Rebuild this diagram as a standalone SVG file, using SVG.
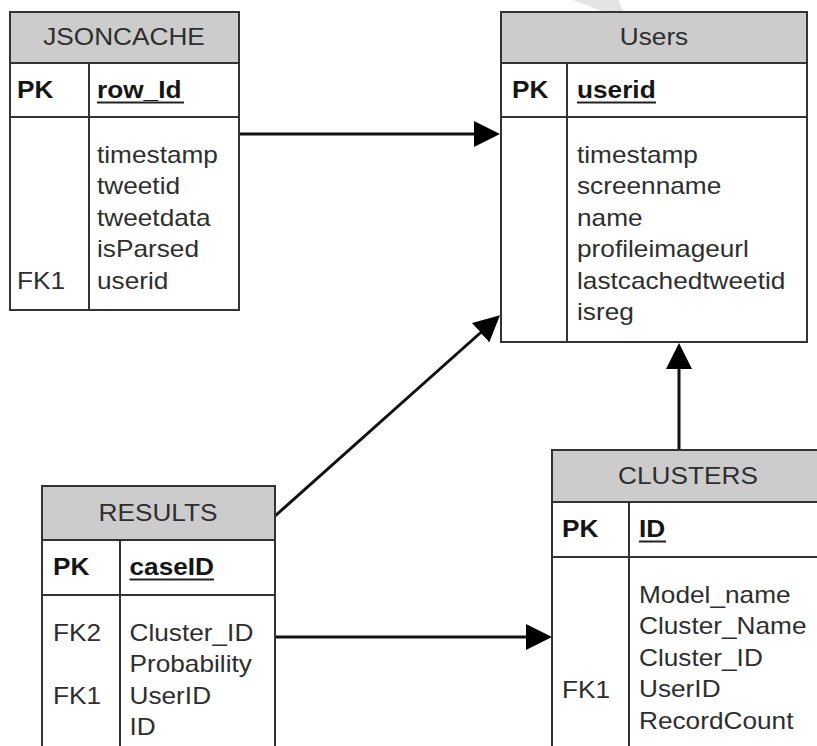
<svg xmlns="http://www.w3.org/2000/svg" width="817" height="746" viewBox="0 0 817 746">
  <style>
    .box { fill: #ffffff; stroke: #333333; stroke-width: 2; }
    .hdr { fill: #cccccc; stroke: #333333; stroke-width: 2; }
    .rule { stroke: #333333; stroke-width: 2; fill: none; }
    .t { font-family: "Liberation Sans", Arial, Helvetica, sans-serif; font-size: 23px; fill: #2e2e2e; }
    .b { font-weight: bold; fill: #151515; }
    .c { text-anchor: middle; }
    .ul { stroke: #222222; stroke-width: 2; }
    .edge { stroke: #111111; stroke-width: 3; fill: none; marker-end: url(#arrow); }
  </style>
  <defs>
    <marker id="arrow" markerUnits="userSpaceOnUse" markerWidth="26" markerHeight="26" viewBox="0 0 26 26" refX="22" refY="13" orient="auto">
      <path d="M0,0 L26,13 L0,26 Z" fill="#000000"/>
    </marker>
  </defs>

  <rect width="817" height="746" fill="#ffffff"/>

  <!-- faint mark along the top edge -->
  <polygon points="573,0 618,0 624,12 604,12" fill="#e4e4e4"/>

  <!-- connectors -->
  <g id="connectors">
    <line class="edge" x1="239" y1="134" x2="496" y2="134"/>
    <line class="edge" x1="275" y1="516" x2="497" y2="318"/>
    <line class="edge" x1="679" y1="450" x2="679" y2="347"/>
    <line class="edge" x1="275" y1="637" x2="548" y2="637"/>
  </g>

  <!-- JSONCACHE -->
  <g id="jsoncache">
    <rect class="box" x="10" y="12" width="229" height="298"/>
    <rect class="hdr" x="10" y="12" width="229" height="51"/>
    <line class="rule" x1="10" y1="117" x2="239" y2="117"/>
    <line class="rule" x1="89" y1="63" x2="89" y2="310"/>
    <text class="t c" transform="matrix(1.14 0 0 1 124 45)">JSONCACHE</text>
    <text class="t b" transform="matrix(1.14 0 0 1 17 98)">PK</text>
    <text class="t b" transform="matrix(1.14 0 0 1 97 98)">row_Id</text>
    <line class="ul" x1="97" y1="102.5" x2="184" y2="102.5"/>
    <text class="t" transform="matrix(1.14 0 0 1 97 163)"><tspan x="0" y="0">timestamp</tspan><tspan x="0" y="31.5">tweetid</tspan><tspan x="0" y="63">tweetdata</tspan><tspan x="0" y="94.5">isParsed</tspan><tspan x="0" y="126">userid</tspan></text>
    <text class="t" transform="matrix(1.14 0 0 1 17 289)">FK1</text>
  </g>

  <!-- Users -->
  <g id="users">
    <rect class="box" x="501" y="12" width="306" height="330"/>
    <rect class="hdr" x="501" y="12" width="306" height="51"/>
    <line class="rule" x1="501" y1="117" x2="807" y2="117"/>
    <line class="rule" x1="567" y1="63" x2="567" y2="342"/>
    <text class="t c" transform="matrix(1.14 0 0 1 654 45)">Users</text>
    <text class="t b" transform="matrix(1.14 0 0 1 512 98)">PK</text>
    <text class="t b" transform="matrix(1.14 0 0 1 577 98)">userid</text>
    <line class="ul" x1="577" y1="102.5" x2="656" y2="102.5"/>
    <text class="t" transform="matrix(1.14 0 0 1 577 163)"><tspan x="0" y="0">timestamp</tspan><tspan x="0" y="31.5">screenname</tspan><tspan x="0" y="63">name</tspan><tspan x="0" y="94.5">profileimageurl</tspan><tspan x="0" y="126">lastcachedtweetid</tspan><tspan x="0" y="157.5">isreg</tspan></text>
  </g>

  <!-- RESULTS -->
  <g id="results">
    <rect class="box" x="42" y="486" width="233" height="280"/>
    <rect class="hdr" x="42" y="486" width="233" height="54"/>
    <line class="rule" x1="42" y1="595" x2="275" y2="595"/>
    <line class="rule" x1="120" y1="540" x2="120" y2="766"/>
    <text class="t c" transform="matrix(1.14 0 0 1 158 521)">RESULTS</text>
    <text class="t b" transform="matrix(1.14 0 0 1 53 575)">PK</text>
    <text class="t b" transform="matrix(1.14 0 0 1 129.5 575)">caseID</text>
    <line class="ul" x1="129.5" y1="579.5" x2="214" y2="579.5"/>
    <text class="t" transform="matrix(1.14 0 0 1 129.5 641)"><tspan x="0" y="0">Cluster_ID</tspan><tspan x="0" y="31.5">Probability</tspan><tspan x="0" y="63">UserID</tspan><tspan x="0" y="94.5">ID</tspan></text>
    <text class="t" transform="matrix(1.14 0 0 1 53 641)"><tspan x="0" y="0">FK2</tspan><tspan x="0" y="63">FK1</tspan></text>
  </g>

  <!-- CLUSTERS -->
  <g id="clusters">
    <rect class="box" x="552" y="450" width="300" height="320"/>
    <rect class="hdr" x="552" y="450" width="300" height="52"/>
    <line class="rule" x1="552" y1="557" x2="852" y2="557"/>
    <line class="rule" x1="629" y1="502" x2="629" y2="770"/>
    <text class="t c" transform="matrix(1.14 0 0 1 688 484)">CLUSTERS</text>
    <text class="t b" transform="matrix(1.14 0 0 1 562 537)">PK</text>
    <text class="t b" transform="matrix(1.14 0 0 1 639 537)">ID</text>
    <line class="ul" x1="639" y1="541.5" x2="666" y2="541.5"/>
    <text class="t" transform="matrix(1.14 0 0 1 639 603)"><tspan x="0" y="0">Model_name</tspan><tspan x="0" y="31.5">Cluster_Name</tspan><tspan x="0" y="63">Cluster_ID</tspan><tspan x="0" y="94.5">UserID</tspan><tspan x="0" y="126">RecordCount</tspan></text>
    <text class="t" transform="matrix(1.14 0 0 1 562 697.5)">FK1</text>
  </g>
</svg>
